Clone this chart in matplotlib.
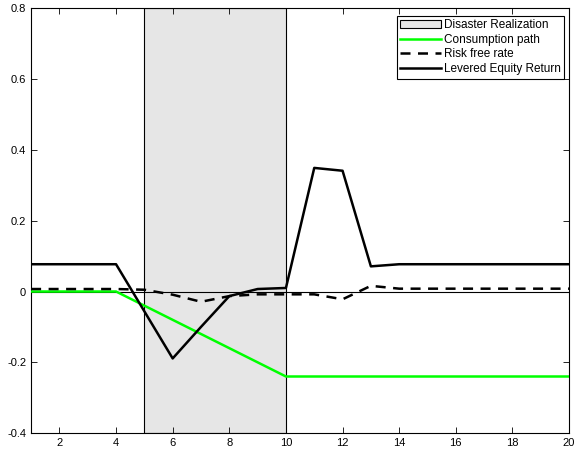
import matplotlib
matplotlib.use("Agg")
import matplotlib.pyplot as plt

plt.rcParams['font.family'] = ['Liberation Sans', 'DejaVu Sans']

periods = list(range(1, 21))
consumption = [0, 0, 0, 0, -0.04, -0.08, -0.12, -0.16, -0.20, -0.24,
               -0.24, -0.24, -0.24, -0.24, -0.24, -0.24, -0.24, -0.24, -0.24, -0.24]
risk_free = [0.007, 0.007, 0.007, 0.007, 0.005, -0.009, -0.029, -0.013, -0.008, -0.008,
             -0.008, -0.022, 0.016, 0.008, 0.008, 0.008, 0.008, 0.008, 0.008, 0.008]
equity = [0.077, 0.077, 0.077, 0.077, -0.056, -0.189, -0.10, -0.013, 0.007, 0.010,
          0.349, 0.341, 0.071, 0.077, 0.077, 0.077, 0.077, 0.077, 0.077, 0.077]
disaster_start, disaster_end = 5, 10

fig = plt.figure(figsize=(5.76, 4.55), dpi=100)
ax = fig.add_axes([0.054, 0.048, 0.934, 0.934])

ax.axvspan(disaster_start, disaster_end, facecolor='#e6e6e6', edgecolor='black',
           linewidth=0.8, label='Disaster Realization', zorder=1)
ax.axhline(0, color='black', linewidth=0.8, zorder=2)
ax.plot(periods, consumption, color='#00ff00', linewidth=1.8, label='Consumption path', zorder=3)
ax.plot(periods, risk_free, color='black', linewidth=1.8, linestyle=(0, (4, 3)),
        label='Risk free rate', zorder=3)
ax.plot(periods, equity, color='black', linewidth=1.8, label='Levered Equity Return', zorder=3)

ax.set_xlim(1, 20)
ax.set_ylim(-0.4, 0.8)
ax.set_xticks(range(2, 21, 2))
ax.set_yticks([-0.4, -0.2, 0, 0.2, 0.4, 0.6, 0.8])
ax.set_yticklabels(['-0.4', '-0.2', '0', '0.2', '0.4', '0.6', '0.8'])
ax.tick_params(direction='in', top=True, right=True, labelsize=8, length=4, width=0.6)
for s in ax.spines.values():
    s.set_linewidth(0.8)

leg = ax.legend(loc='upper right', bbox_to_anchor=(564 / 576, (455 - 15.5) / 455),
                bbox_transform=fig.transFigure, fontsize=8.5, fancybox=False,
                edgecolor='black', framealpha=1, borderpad=0.3, labelspacing=0.23,
                handlelength=3.4, handletextpad=0.25, borderaxespad=0)
leg.get_frame().set_linewidth(0.8)

fig.savefig('out.png', dpi=100)
